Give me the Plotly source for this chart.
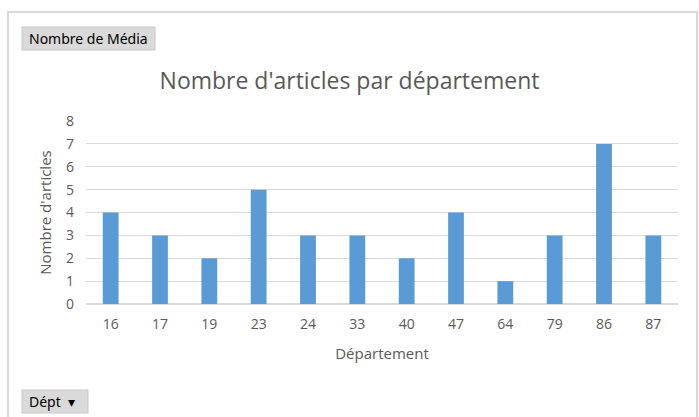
import plotly.graph_objects as go

departements = ["16", "17", "19", "23", "24", "33", "40", "47", "64", "79", "86", "87"]
nb_articles = [4, 3, 2, 5, 3, 3, 2, 4, 1, 3, 7, 3]

W, H = 699, 417
ML, MR, MT, MB = 86, 21, 121, 113
PW, PH = W - ML - MR, H - MT - MB


def px_x(x):
    return (x - ML) / PW


def px_y(y):
    return (H - MB - y) / PH


fig = go.Figure(
    go.Bar(
        x=departements,
        y=nb_articles,
        marker=dict(color="#5b9bd5", line=dict(width=0)),
        width=0.32,
    )
)

font_color = "#595959"

fig.update_layout(
    width=W,
    height=H,
    margin=dict(l=ML, r=MR, t=MT, b=MB),
    plot_bgcolor="white",
    paper_bgcolor="white",
    font=dict(family="Open Sans, Noto Sans, sans-serif", color=font_color, size=14),
    showlegend=False,
    title=dict(
        text="Nombre d'articles par département",
        x=0.5,
        xanchor="center",
        y=1 - 81 / H,
        yanchor="middle",
        font=dict(size=23, color=font_color),
    ),
    xaxis=dict(
        type="category",
        showgrid=False,
        ticks="",
        showline=False,
        ticklabelstandoff=10,
        tickfont=dict(size=14, color=font_color),
        title=dict(text="Département", font=dict(size=15, color=font_color), standoff=16),
    ),
    yaxis=dict(
        range=[0, 8],
        dtick=1,
        gridcolor="#d9d9d9",
        zeroline=True,
        zerolinecolor="#d9d9d9",
        showline=False,
        ticks="",
        ticklabelstandoff=11,
        tickfont=dict(size=14, color=font_color),
        title=dict(text="Nombre d'articles", font=dict(size=15, color=font_color), standoff=10),
    ),
)

# outer chart border
fig.add_shape(
    type="rect", xref="paper", yref="paper",
    x0=px_x(8), x1=px_x(697), y0=px_y(430), y1=px_y(12),
    line=dict(color="#d9d9d9", width=2), fillcolor="rgba(0,0,0,0)", layer="below",
)

# field buttons
buttons = [("Nombre de Média", 22, 155, 27, 50), ("Dépt  \u25be", 22, 88, 390, 413)]
for label, x0, x1, y0, y1 in buttons:
    fig.add_shape(
        type="rect", xref="paper", yref="paper",
        x0=px_x(x0), x1=px_x(x1), y0=px_y(y1), y1=px_y(y0),
        line=dict(color="#c8c8c8", width=1), fillcolor="#dadada",
    )
    fig.add_annotation(
        text=label, xref="paper", yref="paper",
        x=px_x(x0 + 5), y=px_y((y0 + y1) / 2),
        xanchor="left", yanchor="middle", showarrow=False,
        font=dict(size=14, color="#000000", family="Noto Sans, sans-serif"),
    )

fig.write_html(
    "out.html",
    config={"displayModeBar": False},
    post_script="document.body.style.margin='0';",
)
